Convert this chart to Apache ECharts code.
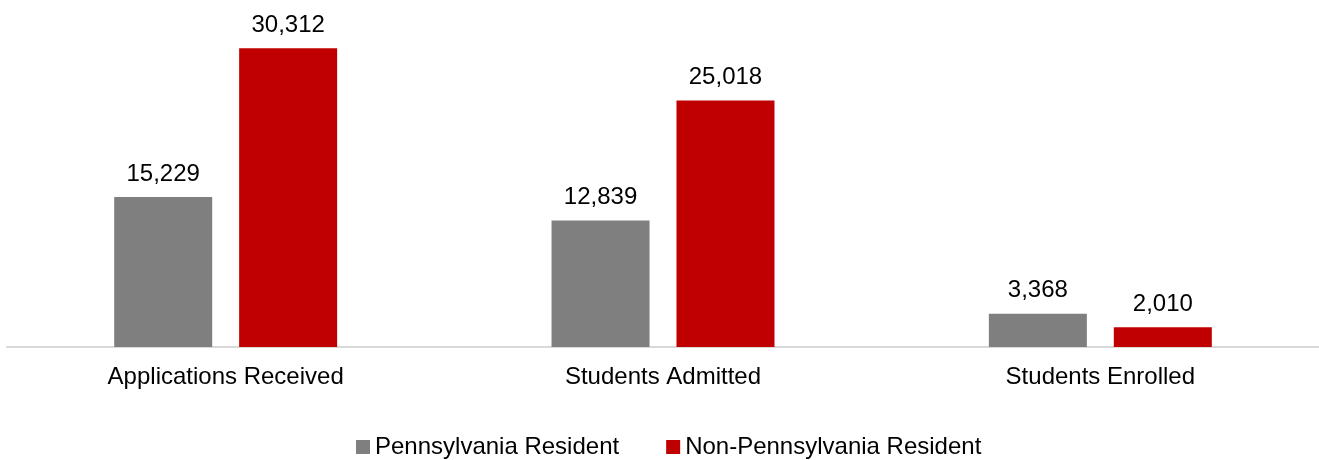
<!DOCTYPE html>
<html>
<head>
<meta charset="utf-8">
<script src="https://cdn.jsdelivr.net/npm/echarts@6/dist/echarts.min.js"></script>
<style>
  html, body { margin: 0; padding: 0; background: #fff; }
  #chart { width: 1319px; height: 460px; }
</style>
</head>
<body>
<div id="chart"></div>
<script>
var categories = ["Applications Received", "Students Admitted", "Students Enrolled"];
var paResident = [15229, 12839, 3368];
var nonPaResident = [30312, 25018, 2010];

var myChart = echarts.init(document.getElementById("chart"));

var labelStyle = {
  show: true,
  position: "top",
  distance: 11,
  fontFamily: "Liberation Sans, Arial",
  fontSize: 24,
  color: "#000",
  formatter: function (p) {
    return p.value.toLocaleString("en-US");
  },
};

var option = {
  animation: false,
  textStyle: { fontFamily: "Liberation Sans, Arial" },
  grid: { left: 7, right: 0, top: 2, bottom: 113, containLabel: false },
  legend: {
    bottom: 1,
    left: 356,
    padding: 0,
    itemWidth: 14,
    itemHeight: 14,
    itemGap: 47,
    icon: "rect",
    textStyle: { fontSize: 24, color: "#000" },
    data: ["Pennsylvania Resident", "Non-Pennsylvania Resident"],
  },
  xAxis: {
    type: "category",
    data: categories,
    axisLine: { lineStyle: { color: "#d9d9d9", width: 2 } },
    axisTick: { show: false },
    axisLabel: { fontSize: 24, color: "#000", margin: 18 },
  },
  yAxis: {
    type: "value",
    min: 0,
    max: 35000,
    show: false,
    splitLine: { show: false },
  },
  series: [
    {
      name: "Pennsylvania Resident",
      type: "bar",
      data: paResident,
      color: "#7f7f7f",
      barWidth: 98,
      barGap: "27.5%",
      label: labelStyle,
    },
    {
      name: "Non-Pennsylvania Resident",
      type: "bar",
      data: nonPaResident,
      color: "#c00000",
      barWidth: 98,
      barGap: "27.5%",
      label: labelStyle,
    },
  ],
};

myChart.setOption(option);
</script>
</body>
</html>
